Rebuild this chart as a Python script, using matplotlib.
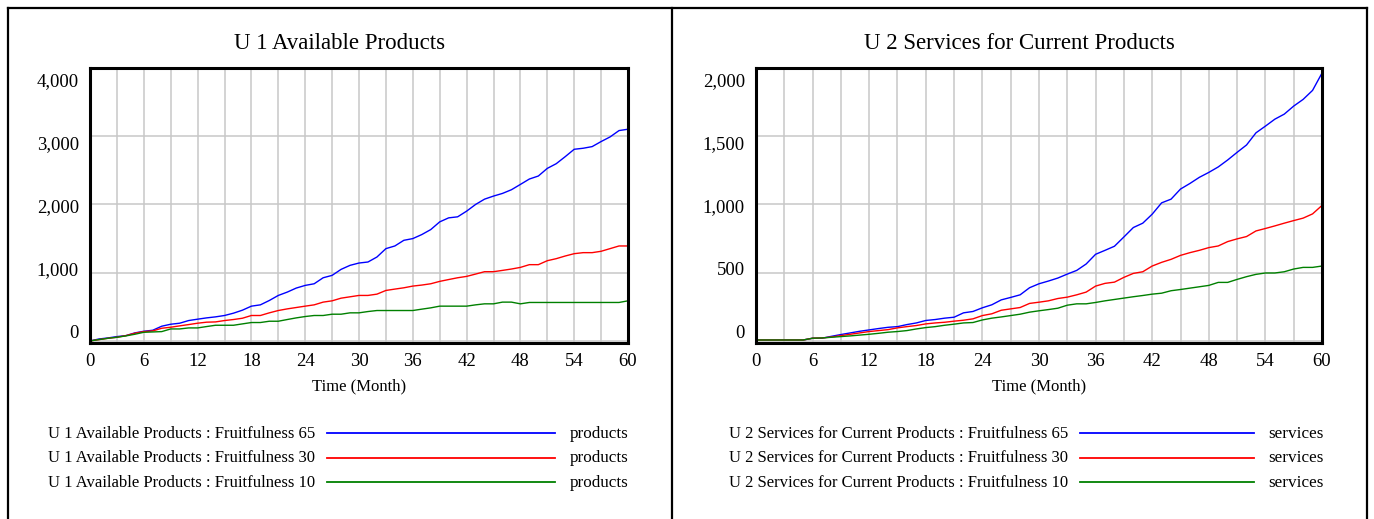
import matplotlib
matplotlib.use('Agg')
import matplotlib.pyplot as plt
import numpy as np
from matplotlib.lines import Line2D

plt.rcParams['font.family'] = ['Liberation Serif', 'DejaVu Serif']

W, H = 1374, 519

months = list(range(0, 61))

# U 1 Available Products (products)
products_65 = [0, 29, 44, 64, 78, 118, 142, 157, 216, 245, 260, 299, 319, 338, 353, 373, 407, 451, 510, 529, 593,
               667, 716, 775, 814, 838, 926, 961, 1049, 1108, 1142, 1157, 1230, 1353, 1392, 1475, 1500, 1559, 1632, 1745, 1804,
               1819, 1902, 2000, 2078, 2123, 2162, 2216, 2294, 2373, 2417, 2529, 2598, 2701, 2809, 2824, 2848, 2922, 2990, 3083, 3103]
products_30 = [0, 20, 39, 54, 78, 113, 137, 147, 186, 201, 221, 240, 260, 275, 279, 299, 314, 333, 373, 373, 412,
               446, 470, 490, 510, 529, 569, 588, 627, 647, 667, 667, 686, 740, 760, 779, 804, 819, 838, 873, 900,
               926, 946, 980, 1015, 1015, 1034, 1054, 1078, 1118, 1118, 1176, 1206, 1245, 1279, 1294, 1294, 1314, 1353, 1392, 1392]
products_10 = [0, 20, 39, 54, 74, 98, 127, 132, 137, 176, 176, 191, 191, 211, 230, 230, 230, 250, 270, 270, 289,
               289, 314, 338, 358, 373, 373, 392, 392, 412, 412, 431, 446, 446, 446, 446, 446, 466, 485, 510, 510,
               510, 510, 529, 544, 544, 569, 569, 544, 564, 564, 564, 564, 564, 564, 564, 564, 564, 564, 564, 588]

# U 2 Services for Current Products (services)
services_65 = [7, 7, 7, 7, 7, 7, 20, 20, 34, 47, 59, 71, 81, 91, 100, 105, 120, 132, 150, 157, 167,
               174, 206, 216, 243, 265, 301, 319, 338, 390, 419, 439, 461, 490, 517, 564, 635, 664, 694, 762, 831,
               863, 929, 1012, 1039, 1113, 1154, 1199, 1235, 1275, 1326, 1382, 1436, 1525, 1574, 1625, 1662, 1721, 1770, 1836, 1963]
services_30 = [7, 7, 7, 7, 7, 7, 20, 22, 29, 39, 49, 59, 69, 76, 83, 96, 105, 113, 125, 132, 137,
               145, 152, 162, 186, 199, 225, 235, 245, 275, 284, 294, 311, 321, 338, 358, 402, 422, 431, 466, 495,
               507, 549, 576, 598, 627, 647, 664, 684, 696, 728, 748, 765, 806, 824, 843, 863, 882, 900, 931, 993]
services_10 = [7, 7, 7, 7, 7, 7, 20, 22, 27, 32, 37, 43, 49, 56, 64, 69, 76, 88, 98, 105, 115,
               123, 132, 135, 154, 167, 176, 186, 196, 211, 221, 230, 240, 262, 272, 272, 282, 294, 304, 314, 324,
               333, 343, 350, 368, 377, 387, 397, 407, 429, 429, 451, 471, 488, 498, 498, 507, 527, 539, 539, 549]

fruitfulness = ['65', '30', '10']
colors = ['#0000ff', '#ff0000', '#008000']


def fx(px):
    return px / W


def fy(py):
    return 1 - py / H


fig = plt.figure(figsize=(W / 100, H / 100), dpi=100)

# panel frames
for x in [8, 672, 1367]:
    fig.add_artist(Line2D([fx(x), fx(x)], [fy(8), 0], color='black', lw=1.6))
fig.add_artist(Line2D([fx(8), fx(1367)], [fy(8), fy(8)], color='black', lw=1.6))


def panel(x0, x1, pleft, pright, title, series, ymax, ystep, yminv, name, unit,
          leg_text_right, leg_line, unit_x):
    ax = fig.add_axes([fx(pleft), fy(343), fx(pright) - fx(pleft), fy(68) - fy(343)])
    for vals, c in zip(series, colors):
        ax.plot(months, vals, color=c, lw=1.0)
    ax.set_xlim(0, 60)
    ax.set_ylim(yminv, ymax)
    ax.set_xticks(range(0, 61, 6))
    ax.set_xticks(range(0, 61, 3), minor=True)
    yvals = list(range(0, ymax + 1, ystep))
    ax.set_yticks(yvals)
    ax.set_yticklabels([])
    ax.grid(which='both', axis='x', color='#c8c8c8', lw=1.1)
    ax.grid(which='major', axis='y', color='#c8c8c8', lw=1.1)
    ax.set_axisbelow(True)
    ax.tick_params(which='both', length=0, labelsize=13.5)
    ax.tick_params(axis='x', pad=7)
    for s in ax.spines.values():
        s.set_linewidth(2.2)
    # Vensim spreads the value labels evenly inside the axis height
    xoff = -11 / (pright - pleft)
    for v, fr in zip(yvals, np.linspace(0.035, 0.95, len(yvals))):
        ax.text(xoff, fr, f'{v:,}', transform=ax.transAxes, ha='right', va='center', fontsize=13.5)
    fig.text(fx((x0 + x1) / 2), fy(49), title, ha='center', va='baseline', fontsize=16.5)
    fig.text(fx((pleft + pright) / 2), fy(390), 'Time (Month)', ha='center', va='baseline', fontsize=12)
    for i, (f, c) in enumerate(zip(fruitfulness, colors)):
        y = 433 + i * 24.5
        fig.text(fx(leg_text_right), fy(y + 5), f'{name} : Fruitfulness {f}',
                 ha='right', va='baseline', fontsize=12)
        fig.add_artist(Line2D([fx(leg_line[0]), fx(leg_line[1])], [fy(y), fy(y)], color=c, lw=1.3))
        fig.text(fx(unit_x), fy(y + 5), unit, ha='left', va='baseline', fontsize=12.3)
    return ax


panel(8, 672, 90, 628, 'U 1 Available Products',
      [products_65, products_30, products_10], 4000, 1000, -30,
      'U 1 Available Products', 'products', 315, (327, 555), 570)
panel(672, 1367, 756, 1322, 'U 2 Services for Current Products',
      [services_65, services_30, services_10], 2000, 500, -15,
      'U 2 Services for Current Products', 'services', 1068, (1080, 1254), 1268)

fig.savefig('out.png', dpi=100)
